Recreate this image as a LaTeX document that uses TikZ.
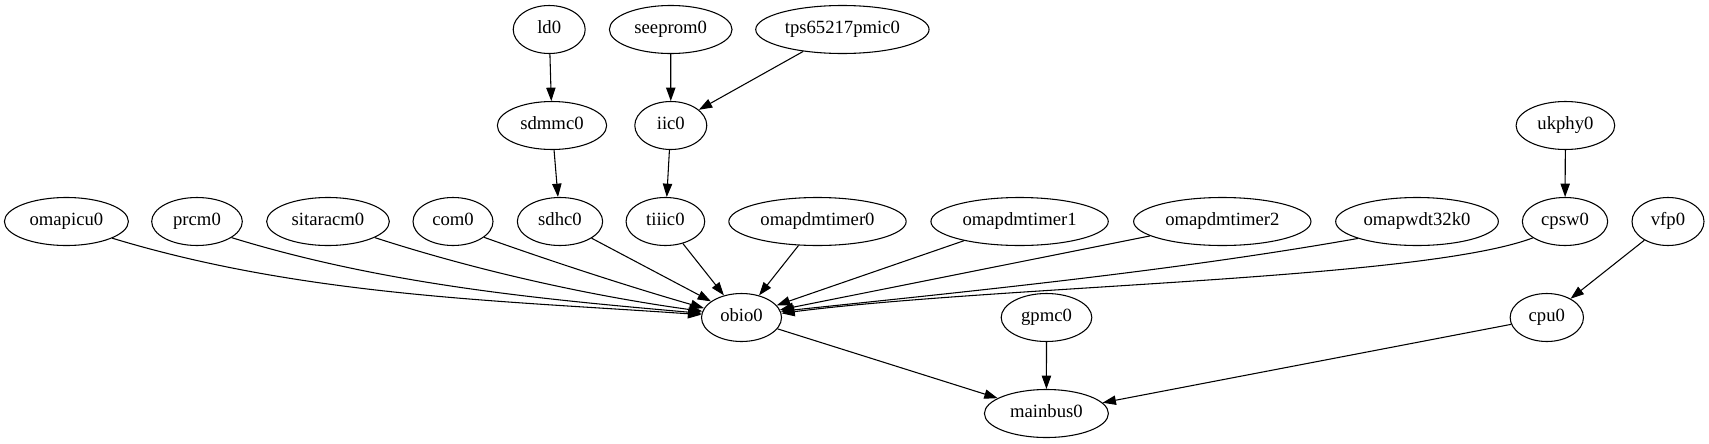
\documentclass[tikz,border=0pt]{standalone}
\usepackage{fontspec}
\setmainfont{Liberation Serif}
\usetikzlibrary{shapes.geometric,arrows.meta}
\newcommand{\dlab}[1]{\makebox[0pt]{#1}}
\begin{document}
\begin{tikzpicture}[x=0.75pt,y=-0.75pt,
  dev/.style={ellipse, draw, line width=0.8pt, minimum height=36pt, inner sep=0pt,
    text height=9.6pt, text depth=3.4pt, font=\fontsize{14pt}{16pt}\selectfont},
  edge/.style={draw, line width=0.8pt, -{Triangle[length=10pt,width=7pt]}}]
\fill[white] (0,0) rectangle (1709,443);
\useasboundingbox (0,0) rectangle (1709,443);
% row 1
\node[dev, minimum width=54pt]  (ld0)      at (549.2,29.5) {\dlab{ld0}};
\node[dev, minimum width=92pt]  (seeprom0) at (670.7,29.5) {\dlab{seeprom0}};
\node[dev, minimum width=130pt] (tps)      at (842.4,29.5) {\dlab{tps65217pmic0}};
% row 2
\node[dev, minimum width=82pt]  (sdmmc0)   at (552,125.5) {\dlab{sdmmc0}};
\node[dev, minimum width=54pt]  (iic0)     at (670.8,125.5) {\dlab{iic0}};
\node[dev, minimum width=74pt]  (ukphy0)   at (1565.4,125.5) {\dlab{ukphy0}};
% row 3
\node[dev, minimum width=93pt]  (omapicu0) at (66.4,221.5) {\dlab{omapicu0}};
\node[dev, minimum width=68pt]  (prcm0)    at (197,221.5) {\dlab{prcm0}};
\node[dev, minimum width=92pt]  (sitaracm0) at (328,221.5) {\dlab{sitaracm0}};
\node[dev, minimum width=60pt]  (com0)     at (453,221.5) {\dlab{com0}};
\node[dev, minimum width=64pt]  (sdhc0)    at (560,221.5) {\dlab{sdhc0}};
\node[dev, minimum width=59pt]  (tiiic0)   at (665.4,221.5) {\dlab{tiiic0}};
\node[dev, minimum width=133pt] (tmr0)     at (817.5,221.5) {\dlab{omapdmtimer0}};
\node[dev, minimum width=133pt] (tmr1)     at (1019.6,221.5) {\dlab{omapdmtimer1}};
\node[dev, minimum width=133pt] (tmr2)     at (1222.3,221.5) {\dlab{omapdmtimer2}};
\node[dev, minimum width=122pt] (wdt)      at (1417,221.5) {\dlab{omapwdt32k0}};
\node[dev, minimum width=64pt]  (cpsw0)    at (1565,221.5) {\dlab{cpsw0}};
\node[dev, minimum width=54pt]  (vfp0)     at (1668,221.5) {\dlab{vfp0}};
% row 4
\node[dev, minimum width=60pt]  (obio0)    at (741.5,317.5) {\dlab{obio0}};
\node[dev, minimum width=68pt]  (gpmc0)    at (1046.5,317.5) {\dlab{gpmc0}};
\node[dev, minimum width=55pt]  (cpu0)     at (1546.8,317.5) {\dlab{cpu0}};
% row 5
\node[dev, minimum width=93pt]  (mainbus0) at (1046.4,413.5) {\dlab{mainbus0}};
% edges
\draw[edge] (ld0) -- (sdmmc0);
\draw[edge] (sdmmc0) -- (sdhc0);
\draw[edge] (seeprom0) -- (iic0);
\draw[edge] (tps) -- (iic0);
\draw[edge] (iic0) -- (tiiic0);
\draw[edge] (ukphy0) -- (cpsw0);
\draw[edge] (vfp0) -- (cpu0);
\draw[edge] (omapicu0.-20) .. controls +(191,58) and +(-200,-14) .. (obio0.176);
\draw[edge] (prcm0.-25) .. controls +(153,47) and +(-160,-14) .. (obio0.174);
\draw[edge] (sitaracm0.-19) .. controls +(105,34) and +(-109,-15) .. (obio0.171);
\draw[edge] (com0.-27) .. controls +(70,25) and +(-70,-20) .. (obio0.166);
\draw[edge] (sdhc0) -- (obio0);
\draw[edge] (tiiic0) -- (obio0);
\draw[edge] (tmr0) -- (obio0);
\draw[edge] (tmr1) -- (obio0);
\draw[edge] (tmr2) -- (obio0);
\draw[edge] (wdt.196) .. controls +(-187,33) and +(189,-20) .. (obio0.9);
\draw[edge] (cpsw0.207) .. controls +(-112,42) and +(219,-28) .. (obio0.6);
\draw[edge] (obio0) -- (mainbus0);
\draw[edge] (gpmc0) -- (mainbus0);
\draw[edge] (cpu0) -- (mainbus0);
\end{tikzpicture}
\end{document}
